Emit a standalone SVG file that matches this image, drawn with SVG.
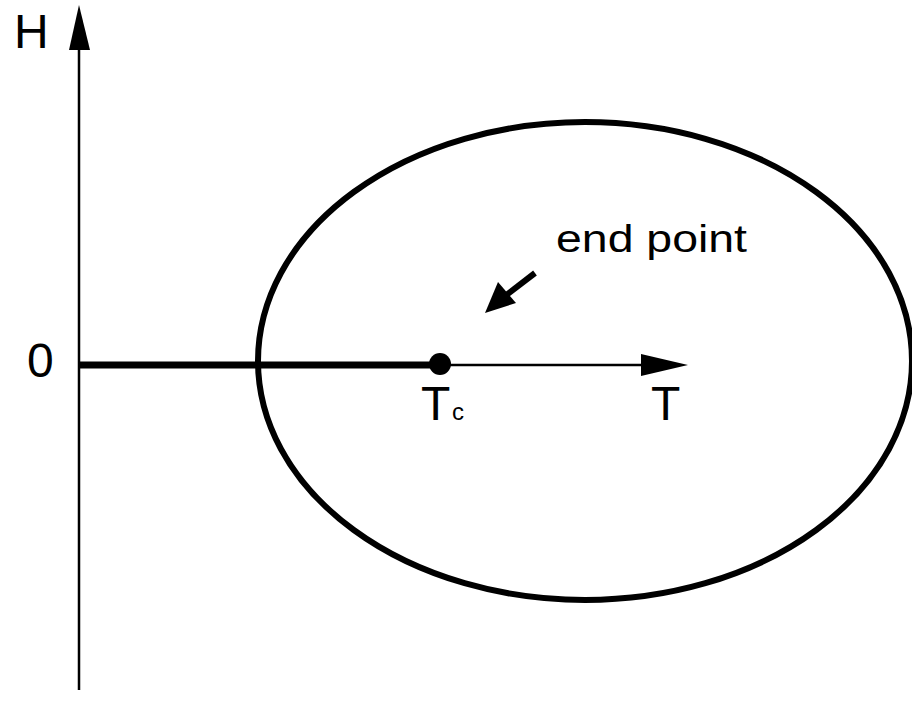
<svg xmlns="http://www.w3.org/2000/svg" width="912" height="705" viewBox="0 0 912 705">
<style>
text{font-family:"Liberation Sans",Arial,sans-serif;fill:#000}
.lbl{font-size:48px}
.ep{font-size:38px}
</style>
<rect width="912" height="705" fill="#fff"/>
<g id="axes">
<line x1="79" y1="690" x2="79" y2="45" stroke="#000" stroke-width="2.5"/>
<polygon points="79,5 69,50 90,50" fill="#000"/>
<line x1="440" y1="365" x2="645" y2="365" stroke="#000" stroke-width="2.5"/>
<polygon points="688,365 641,354 641,376" fill="#000"/>
</g>
<g id="ellipse">
<ellipse cx="585" cy="361" rx="327" ry="239" fill="none" stroke="#000" stroke-width="6"/>
</g>
<g id="connectors">
<line x1="79" y1="365" x2="440" y2="365" stroke="#000" stroke-width="7"/>
<line x1="535" y1="273" x2="500" y2="300" stroke="#000" stroke-width="6"/>
<polygon points="485,313 498,282 516,303" fill="#000"/>
</g>
<g id="endpoint">
<circle cx="440" cy="364" r="11" fill="#000"/>
</g>
<g id="labels">
<text class="lbl" x="14" y="48">H</text>
<text class="lbl" x="27" y="377">0</text>
<text class="lbl" x="651" y="420">T</text>
<text class="lbl" x="421" y="420">T</text>
<text x="452" y="420" font-size="24">c</text>
<text class="ep" x="556" y="252" textLength="191" lengthAdjust="spacingAndGlyphs">end point</text>
</g>
</svg>
